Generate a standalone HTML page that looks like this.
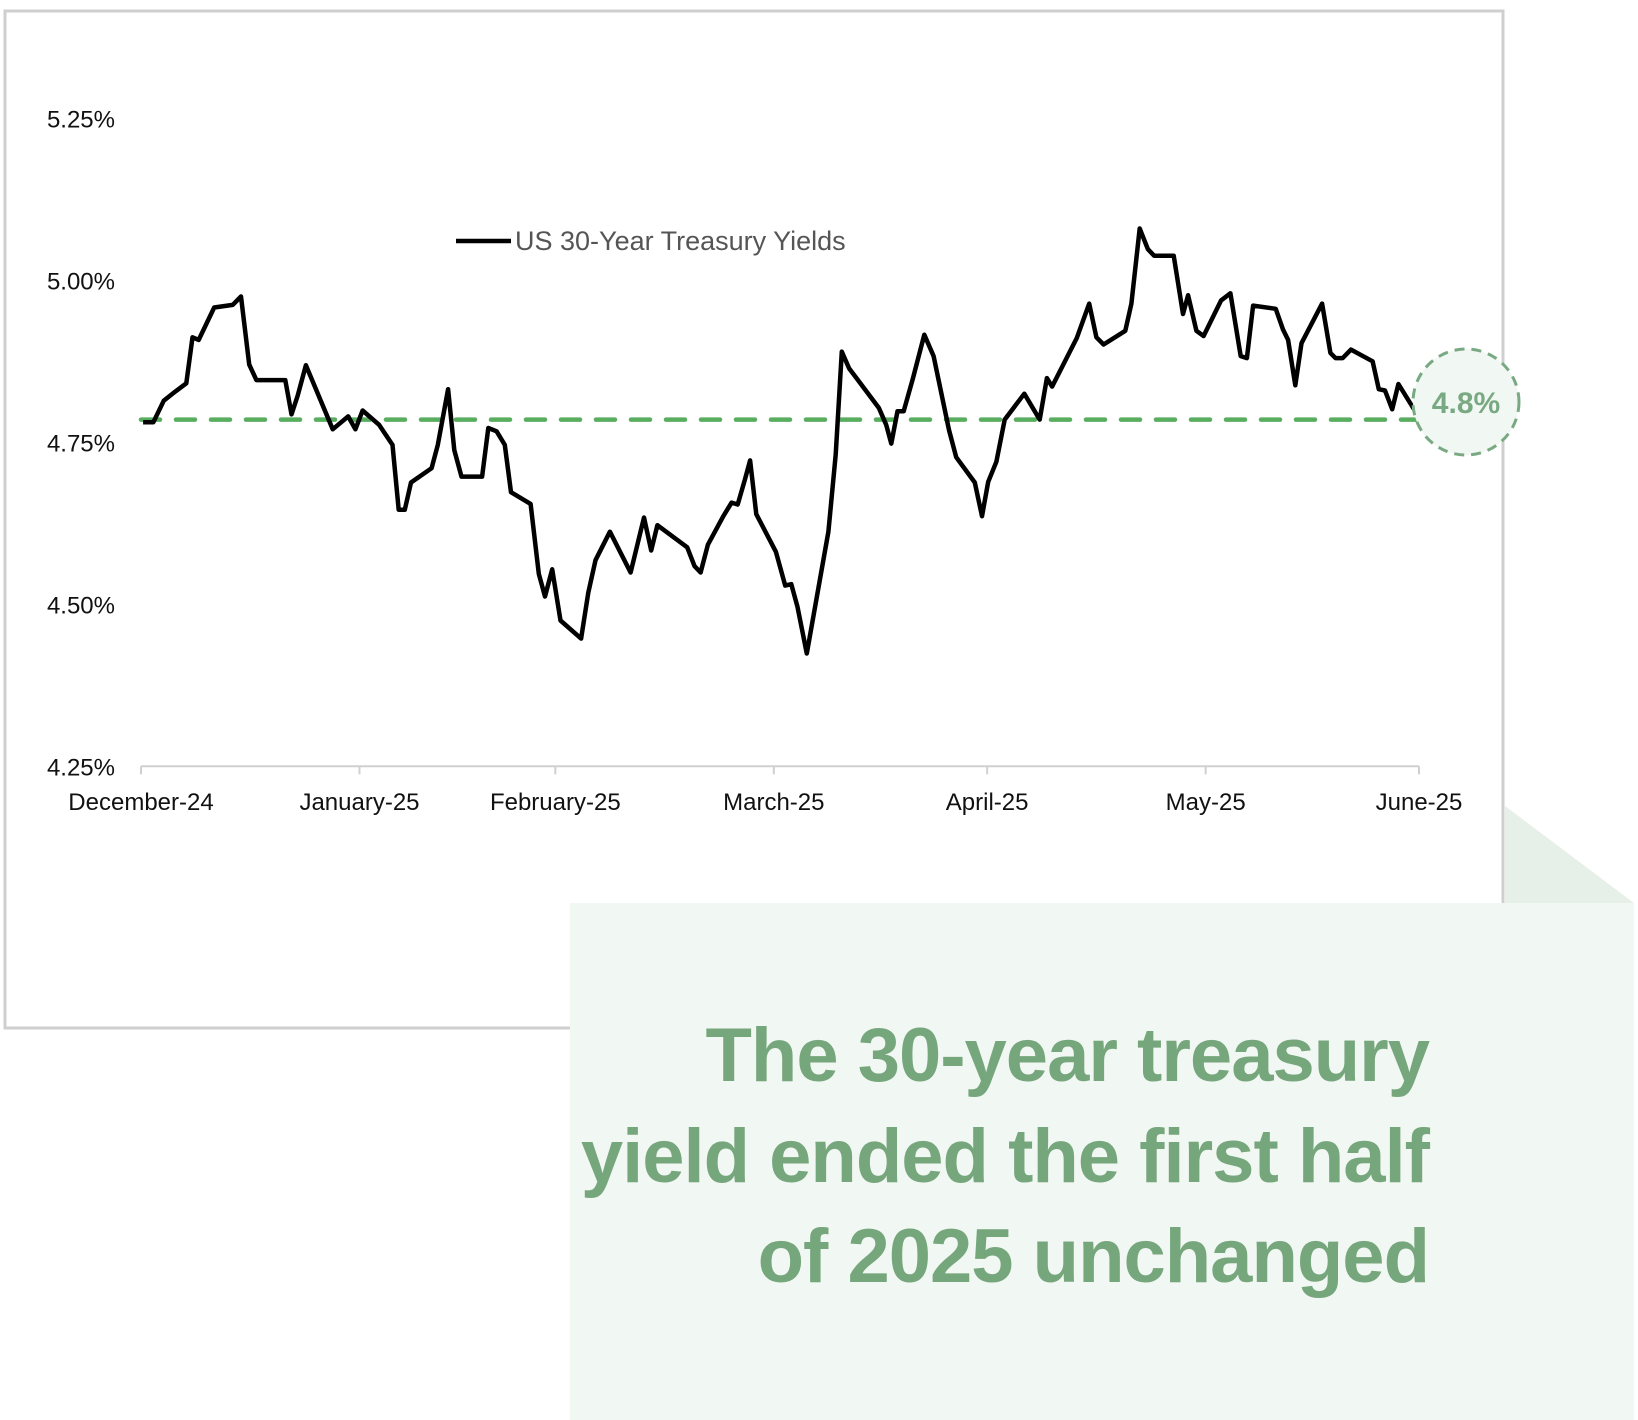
<!DOCTYPE html>
<html><head><meta charset="utf-8"><style>
html,body{margin:0;padding:0;background:#fff;}
body{width:1638px;height:1420px;position:relative;overflow:hidden;font-family:"Liberation Sans Narrow","Liberation Sans",sans-serif;}
svg{position:absolute;left:0;top:0;}
</style></head><body>
<svg id="chart" width="1638" height="1420" viewBox="0 0 1638 1420" xmlns="http://www.w3.org/2000/svg">
  <rect x="5" y="11" width="1498" height="1017" fill="#fff" stroke="#cfcfcf" stroke-width="3"/>
  <polygon points="1505,806 1634,903 1505,903" fill="#e6f0e8"/>
  <rect x="570" y="903" width="1064" height="517" fill="#f1f7f2"/>
  <g id="axes"></g>
  <g id="series"></g>
  <g>
    <line x1="456" y1="241" x2="511" y2="241" stroke="#000" stroke-width="4.5"/>
    <text x="515" y="250" font-size="27" fill="#555" font-family="Liberation Sans Narrow, Liberation Sans, sans-serif">US 30-Year Treasury Yields</text>
  </g>
  <g>
    <circle cx="1466" cy="402" r="53" fill="#f1f7f2" stroke="#79a982" stroke-width="3" stroke-dasharray="10,7"/>
    <text x="1466" y="413" text-anchor="middle" font-size="30" font-weight="bold" fill="#79a982" font-family="Liberation Sans Narrow, Liberation Sans, sans-serif">4.8%</text>
  </g>
  <g font-family="Liberation Sans Narrow, Liberation Sans, sans-serif" font-weight="bold" font-size="76" fill="#76a67c" text-anchor="end" letter-spacing="-1">
    <text x="1429" y="1081">The 30-year treasury</text>
    <text x="1429" y="1182">yield ended the first half</text>
    <text x="1429" y="1282">of 2025 unchanged</text>
  </g>
</svg>
<script>
const days = [0.2,1.2,2.2,3.3,4.4,5.0,5.6,7.1,8.9,9.7,10.5,11.2,14.0,14.6,15.2,16.0,18.6,20.1,20.8,21.5,23.1,24.4,25.0,25.6,26.2,28.2,28.8,29.8,30.4,31.1,33.1,33.7,34.5,35.3,35.9,37.8,38.6,39.2,39.9,40.7,42.7,43.4,44.1,45.5,47.5,48.8,49.5,50.1,53.0,53.7,54.3,55.0,56.5,57.3,57.9,58.6,59.1,59.7,61.6,62.5,63.1,63.7,64.6,66.7,67.4,68.0,68.7,69.7,71.6,72.3,72.8,73.4,74.0,74.9,76.0,76.9,78.4,79.1,80.9,81.6,82.2,83.0,83.8,85.7,87.2,87.9,88.4,90.8,92.0,92.7,93.4,95.5,96.1,96.9,97.7,98.3,100.2,101.1,101.6,102.4,103.1,104.8,105.7,106.7,107.3,107.9,110.1,110.8,111.3,112.0,112.6,114.6,115.4,115.9,116.6,117.4,119.5,120.1,120.7,121.4,122.0,124.1];
const yields = [4.781,4.781,4.814,4.828,4.841,4.912,4.908,4.958,4.962,4.975,4.870,4.846,4.846,4.793,4.822,4.869,4.770,4.790,4.770,4.799,4.777,4.746,4.646,4.646,4.688,4.710,4.746,4.832,4.738,4.697,4.697,4.772,4.767,4.746,4.673,4.655,4.547,4.512,4.554,4.475,4.447,4.518,4.568,4.612,4.549,4.634,4.583,4.622,4.588,4.559,4.549,4.592,4.636,4.657,4.654,4.693,4.722,4.639,4.581,4.529,4.531,4.496,4.424,4.612,4.731,4.890,4.864,4.843,4.803,4.777,4.748,4.798,4.798,4.849,4.916,4.883,4.769,4.727,4.688,4.636,4.689,4.720,4.785,4.825,4.785,4.849,4.836,4.911,4.964,4.912,4.901,4.922,4.964,5.080,5.048,5.038,5.038,4.948,4.977,4.922,4.914,4.969,4.980,4.883,4.880,4.961,4.956,4.924,4.908,4.838,4.903,4.964,4.888,4.880,4.880,4.893,4.875,4.832,4.830,4.801,4.840,4.786];
const refValue = [4.785];
const yTicks = [4.25,4.50,4.75,5.00,5.25];
const yTickLabels = ["4.25%","4.50%","4.75%","5.00%","5.25%"];
const xTickDays = [0,21.2,40.2,61.4,82.1,103.3,124.0];
const xTickLabels = ["December-24","January-25","February-25","March-25","April-25","May-25","June-25"];

const NS = "http://www.w3.org/2000/svg";
const X0 = 141, X1 = 1419, DMAX = 124.0;
const Y0 = 766.3, YMIN = 4.25, YMAX = 5.25, YTOP = 118.3;
function xScale(d){ return X0 + (d/DMAX)*(X1-X0); }
function yScale(v){ return Y0 - (v-YMIN)/(YMAX-YMIN)*(Y0-YTOP); }
function mk(tag, attrs){ const e=document.createElementNS(NS,tag); for(const k in attrs) e.setAttribute(k,attrs[k]); return e; }

const axes = document.getElementById('axes');
const xAxis = mk('line',{x1:X0,y1:Y0,x2:X1,y2:Y0,stroke:'#d0d0d0','stroke-width':2});


axes.appendChild(xAxis);
xTickDays.forEach((d,i)=>{
  const t = mk('line',{x1:xScale(d),y1:Y0,x2:xScale(d),y2:Y0+8,stroke:'#d0d0d0','stroke-width':2});
  
  
  axes.appendChild(t);
  const lb = mk('text',{x:xScale(d),y:810,'text-anchor':'middle','font-size':24,fill:'#111'});
  
  
  lb.textContent = xTickLabels[i];
  axes.appendChild(lb);
});
yTicks.forEach((v,i)=>{
  const lb = mk('text',{x:115,y:yScale(v)+9,'text-anchor':'end','font-size':24,fill:'#111'});
  
  
  lb.textContent = yTickLabels[i];
  axes.appendChild(lb);
});

const series = document.getElementById('series');
const ref = mk('line',{x1:X0,y1:yScale(refValue[0]),x2:X1,y2:yScale(refValue[0]),stroke:'#58ad5e','stroke-width':4.5,'stroke-dasharray':'19,16','stroke-linecap':'round'});


series.appendChild(ref);
const pts = days.map((d,i)=>xScale(d).toFixed(1)+','+yScale(yields[i]).toFixed(1)).join(' ');
const line = mk('polyline',{points:pts,fill:'none',stroke:'#000','stroke-width':4.5,'stroke-linejoin':'round'});


series.appendChild(line);
</script>
</body></html>
